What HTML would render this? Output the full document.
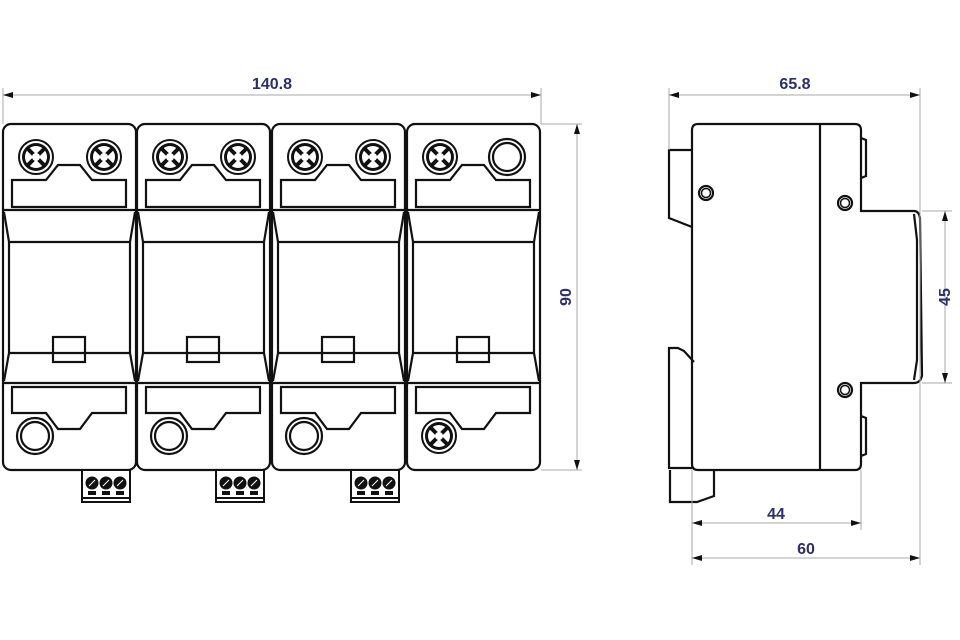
<!DOCTYPE html>
<html><head><meta charset="utf-8"><style>
html,body{margin:0;padding:0;background:#fff;width:960px;height:640px;overflow:hidden}
svg{display:block}
text{font-family:"Liberation Sans",sans-serif;font-weight:bold;font-size:16px;fill:#2b2f6b}
</style></head><body>
<svg width="960" height="640" viewBox="0 0 960 640" xmlns="http://www.w3.org/2000/svg">
<defs>
<g id="tx">
 <circle r="17" fill="#fff" stroke="#111" stroke-width="2"/>
 <circle r="14" fill="#111"/>
 <circle r="11" fill="#fff"/>
 <g stroke="#111" stroke-width="4">
  <line x1="-9" y1="-9" x2="9" y2="9"/><line x1="-9" y1="9" x2="9" y2="-9"/>
 </g>
 <circle r="4" fill="#fff"/>
</g>
<g id="ring">
 <circle r="18" fill="#fff" stroke="#111" stroke-width="2.2"/>
 <circle r="14" fill="#fff" stroke="#111" stroke-width="2.2"/>
</g>
<g id="mod" fill="none" stroke="#111" stroke-width="2.2">
 <rect x="3" y="124" width="133" height="346" rx="8"/>
 <line x1="3" y1="210" x2="136" y2="210"/>
 <line x1="3" y1="383" x2="136" y2="383"/>
 <line x1="9" y1="242" x2="130" y2="242"/>
 <line x1="9" y1="353" x2="130" y2="353"/>
 <polyline points="4,212 9,242 9,353 4,381"/>
 <polyline points="135,212 130,242 130,353 135,381"/>
 <polygon points="12,180 46,180 58,165 80,165 92,180 126,180 126,207 12,207"/>
 <polygon points="12,387 126,387 126,413 92,413 80,429 58,429 46,413 12,413"/>
 <rect x="53" y="337" width="32" height="25"/>
</g>
<g id="conn" stroke="#111" stroke-width="2" fill="#fff">
 <rect x="82" y="470" width="48" height="32"/>
 <line x1="82" y1="498" x2="130" y2="498"/>
 <circle cx="92" cy="483" r="5.5" fill="#111"/><circle cx="106" cy="483" r="5.5" fill="#111"/><circle cx="120" cy="483" r="5.5" fill="#111"/>
 <g stroke="#fff" stroke-width="1"><line x1="89" y1="486" x2="95" y2="480"/><line x1="103" y1="486" x2="109" y2="480"/><line x1="117" y1="486" x2="123" y2="480"/></g>
 <rect x="89" y="492" width="6" height="2" fill="#111"/><rect x="103" y="492" width="6" height="2" fill="#111"/><rect x="117" y="492" width="6" height="2" fill="#111"/>
</g>
<marker id="ar" markerWidth="10" markerHeight="6" refX="10" refY="3" orient="auto-start-reverse" markerUnits="userSpaceOnUse">
 <path d="M0,0 L10,3 L0,6 Z" fill="#111"/>
</marker>
</defs>

<use href="#mod"/><use href="#mod" x="134"/><use href="#mod" x="269"/><use href="#mod" x="404"/>
<use href="#tx" x="36" y="157"/><use href="#tx" x="104" y="157"/>
<use href="#tx" x="170" y="157"/><use href="#tx" x="238" y="157"/>
<use href="#tx" x="305" y="157"/><use href="#tx" x="373" y="157"/>
<use href="#tx" x="440" y="157"/><use href="#ring" x="507" y="157"/>
<use href="#ring" x="35" y="436"/><use href="#ring" x="169" y="436"/><use href="#ring" x="304" y="436"/><use href="#tx" x="439" y="436"/>
<use href="#conn"/><use href="#conn" x="134"/><use href="#conn" x="269"/>

<g stroke="#aaa" stroke-width="1">
 <line x1="3" y1="88" x2="3" y2="124"/><line x1="541" y1="88" x2="541" y2="124"/>
 <line x1="541" y1="124" x2="582" y2="124"/><line x1="541" y1="470" x2="582" y2="470"/>
 <line x1="3" y1="95" x2="541" y2="95" marker-start="url(#ar)" marker-end="url(#ar)"/>
 <line x1="577" y1="124" x2="577" y2="470" marker-start="url(#ar)" marker-end="url(#ar)"/>
</g>
<text x="272" y="89" text-anchor="middle">140.8</text>
<text transform="translate(571,297) rotate(-90)" text-anchor="middle">90</text>

<g fill="none" stroke="#111" stroke-width="2.2">
 <path d="M692,130 Q692,124 698,124 L855,124 Q861,124 861,130 L861,211 L914,211 Q919,211 920,218 L922,376 Q920,383 914,383 L861,383 L861,464 Q861,470 855,470 L698,470 Q692,470 692,464 Z"/>
 <line x1="820" y1="124" x2="820" y2="470"/>
 <polyline points="692,150 669,150 669,218 692,227"/>
 <polyline points="694,362 684,351 678,348 669,348 669,468 692,468"/>
 <polyline points="670,470 670,502 697,502 714,496 714,470"/>
 <path d="M861,138 L866,140 L866,176 L861,178"/>
 <path d="M861,416 L866,418 L866,454 L861,456"/>
 <path d="M914,214 L917,240 L917,360 L914,380"/>
 <circle cx="706" cy="193" r="7"/><circle cx="845" cy="203" r="7"/><circle cx="845" cy="390" r="7"/>
 <circle cx="706" cy="193" r="4.5" stroke-width="1.5"/><circle cx="845" cy="203" r="4.5" stroke-width="1.5"/><circle cx="845" cy="390" r="4.5" stroke-width="1.5"/>
</g>
<g stroke="#aaa" stroke-width="1">
 <line x1="669" y1="88" x2="669" y2="150"/><line x1="920" y1="88" x2="920" y2="565"/>
 <line x1="692" y1="470" x2="692" y2="565"/><line x1="861" y1="470" x2="861" y2="530"/>
 <line x1="922" y1="211" x2="952" y2="211"/><line x1="922" y1="383" x2="952" y2="383"/>
 <line x1="669" y1="95" x2="920" y2="95" marker-start="url(#ar)" marker-end="url(#ar)"/>
 <line x1="692" y1="523" x2="861" y2="523" marker-start="url(#ar)" marker-end="url(#ar)"/>
 <line x1="692" y1="558" x2="920" y2="558" marker-start="url(#ar)" marker-end="url(#ar)"/>
 <line x1="945" y1="211" x2="945" y2="383" marker-start="url(#ar)" marker-end="url(#ar)"/>
</g>
<text x="795" y="89" text-anchor="middle">65.8</text>
<text x="776" y="519" text-anchor="middle">44</text>
<text x="806" y="554" text-anchor="middle">60</text>
<text transform="translate(950,297) rotate(-90)" text-anchor="middle">45</text>
</svg>
</body></html>
